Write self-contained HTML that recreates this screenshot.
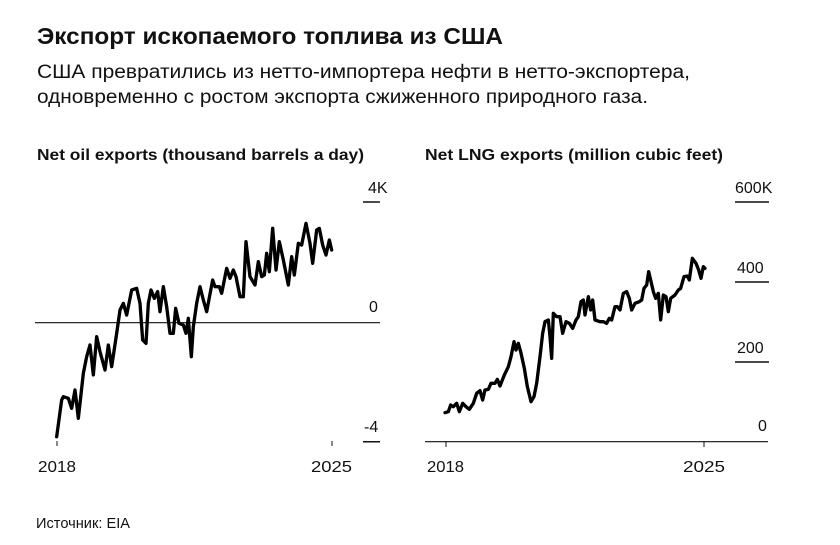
<!DOCTYPE html>
<html><head><meta charset="utf-8"><style>
html,body{margin:0;padding:0;background:#fff;}
svg{display:block;}
text{font-family:"Liberation Sans","Noto Sans CJK SC",sans-serif;fill:#111;}
</style></head><body>
<svg width="840" height="545" viewBox="0 0 840 545" xmlns="http://www.w3.org/2000/svg">
<text x="37" y="44" font-size="23" font-weight="bold" textLength="466" lengthAdjust="spacingAndGlyphs">Экспорт ископаемого топлива из США</text>
<text x="37" y="78" font-size="19" textLength="653" lengthAdjust="spacingAndGlyphs">США превратились из нетто-импортера нефти в нетто-экспортера,</text>
<text x="37" y="103" font-size="19" textLength="611" lengthAdjust="spacingAndGlyphs">одновременно с ростом экспорта сжиженного природного газа.</text>
<text x="37" y="160" font-size="16" font-weight="bold" textLength="327" lengthAdjust="spacingAndGlyphs">Net oil exports (thousand barrels a day)</text>
<text x="425" y="160" font-size="16" font-weight="bold" textLength="298" lengthAdjust="spacingAndGlyphs">Net LNG exports (million cubic feet)</text>

<line x1="35" y1="322.7" x2="380" y2="322.7" stroke="#111" stroke-width="1.2"/>
<line x1="363" y1="202" x2="380" y2="202" stroke="#111" stroke-width="1.5"/>
<line x1="363" y1="441.7" x2="380" y2="441.7" stroke="#111" stroke-width="1.5"/>
<text x="368" y="193" font-size="16">4K</text>
<text x="369" y="312" font-size="16">0</text>
<text x="364" y="432" font-size="16">-4</text>
<line x1="57" y1="441" x2="57" y2="446" stroke="#111" stroke-width="1"/>
<line x1="332" y1="441" x2="332" y2="446" stroke="#111" stroke-width="1"/>
<text x="38" y="472" font-size="16" textLength="38" lengthAdjust="spacingAndGlyphs">2018</text>
<text x="311" y="472" font-size="16" textLength="41" lengthAdjust="spacingAndGlyphs">2025</text>
<g transform="translate(30,170) scale(0.33333)">
<polyline fill="none" stroke="#000" stroke-width="10" stroke-linejoin="round" stroke-linecap="round" points="80,800 95,690 100,680 115,685 125,715 135,660 145,745 160,610 170,560 180,525 190,615 200,500 210,545 225,600 235,525 245,590 260,490 270,420 280,400 290,435 305,360 320,355 330,400 338,510 348,520 355,400 363,360 373,385 383,365 390,425 400,350 410,410 420,490 430,490 437,415 447,460 460,465 468,490 475,445 484,560 490,470 500,400 510,350 520,390 530,425 548,330 555,350 568,350 575,370 590,295 600,325 610,300 618,320 630,380 640,380 648,215 660,320 675,345 685,275 695,320 703,315 710,250 718,305 728,175 738,300 748,215 760,270 775,345 785,260 793,315 805,220 815,225 828,160 840,220 848,280 860,180 868,175 878,225 888,255 898,210 905,240"/>
</g>

<line x1="425" y1="441.7" x2="768" y2="441.7" stroke="#111" stroke-width="1.2"/>
<line x1="735" y1="202" x2="769" y2="202" stroke="#111" stroke-width="1.5"/>
<line x1="735" y1="282" x2="769" y2="282" stroke="#111" stroke-width="1.5"/>
<line x1="735" y1="362" x2="769" y2="362" stroke="#111" stroke-width="1.5"/>
<text x="735" y="193" font-size="16">600K</text>
<text x="737" y="273" font-size="16">400</text>
<text x="737" y="353" font-size="16">200</text>
<text x="758" y="431" font-size="16">0</text>
<line x1="446" y1="441" x2="446" y2="447" stroke="#111" stroke-width="1"/>
<line x1="704" y1="441" x2="704" y2="447" stroke="#111" stroke-width="1"/>
<text x="427" y="472" font-size="16" textLength="37" lengthAdjust="spacingAndGlyphs">2018</text>
<text x="683" y="472" font-size="16" textLength="42" lengthAdjust="spacingAndGlyphs">2025</text>
<g transform="translate(410,170) scale(0.33333)">
<polyline fill="none" stroke="#000" stroke-width="10" stroke-linejoin="round" stroke-linecap="round" points="105,728 115,725 122,705 130,710 140,700 148,725 158,700 168,710 178,718 190,700 200,670 210,662 218,690 225,660 235,658 243,640 255,640 262,628 270,648 283,615 295,590 303,560 312,515 318,540 325,520 332,545 343,595 352,650 363,695 372,680 380,640 390,560 398,490 405,455 415,450 420,500 425,565 430,430 440,440 450,440 458,490 468,455 478,460 488,475 498,450 505,440 513,395 520,390 525,435 535,380 542,420 548,390 555,450 570,455 580,455 590,460 598,445 605,450 615,410 622,410 630,420 640,370 650,365 658,385 665,420 675,400 688,395 695,390 702,355 710,345 716,305 722,330 730,365 737,385 745,370 752,450 760,375 768,380 775,425 782,385 795,375 805,360 812,355 822,320 832,318 838,330 847,265 858,280 866,300 873,325 880,290 885,295"/>
</g>

<text x="36" y="528" font-size="15" textLength="94" lengthAdjust="spacingAndGlyphs">Источник: EIA</text>
</svg>
</body></html>
